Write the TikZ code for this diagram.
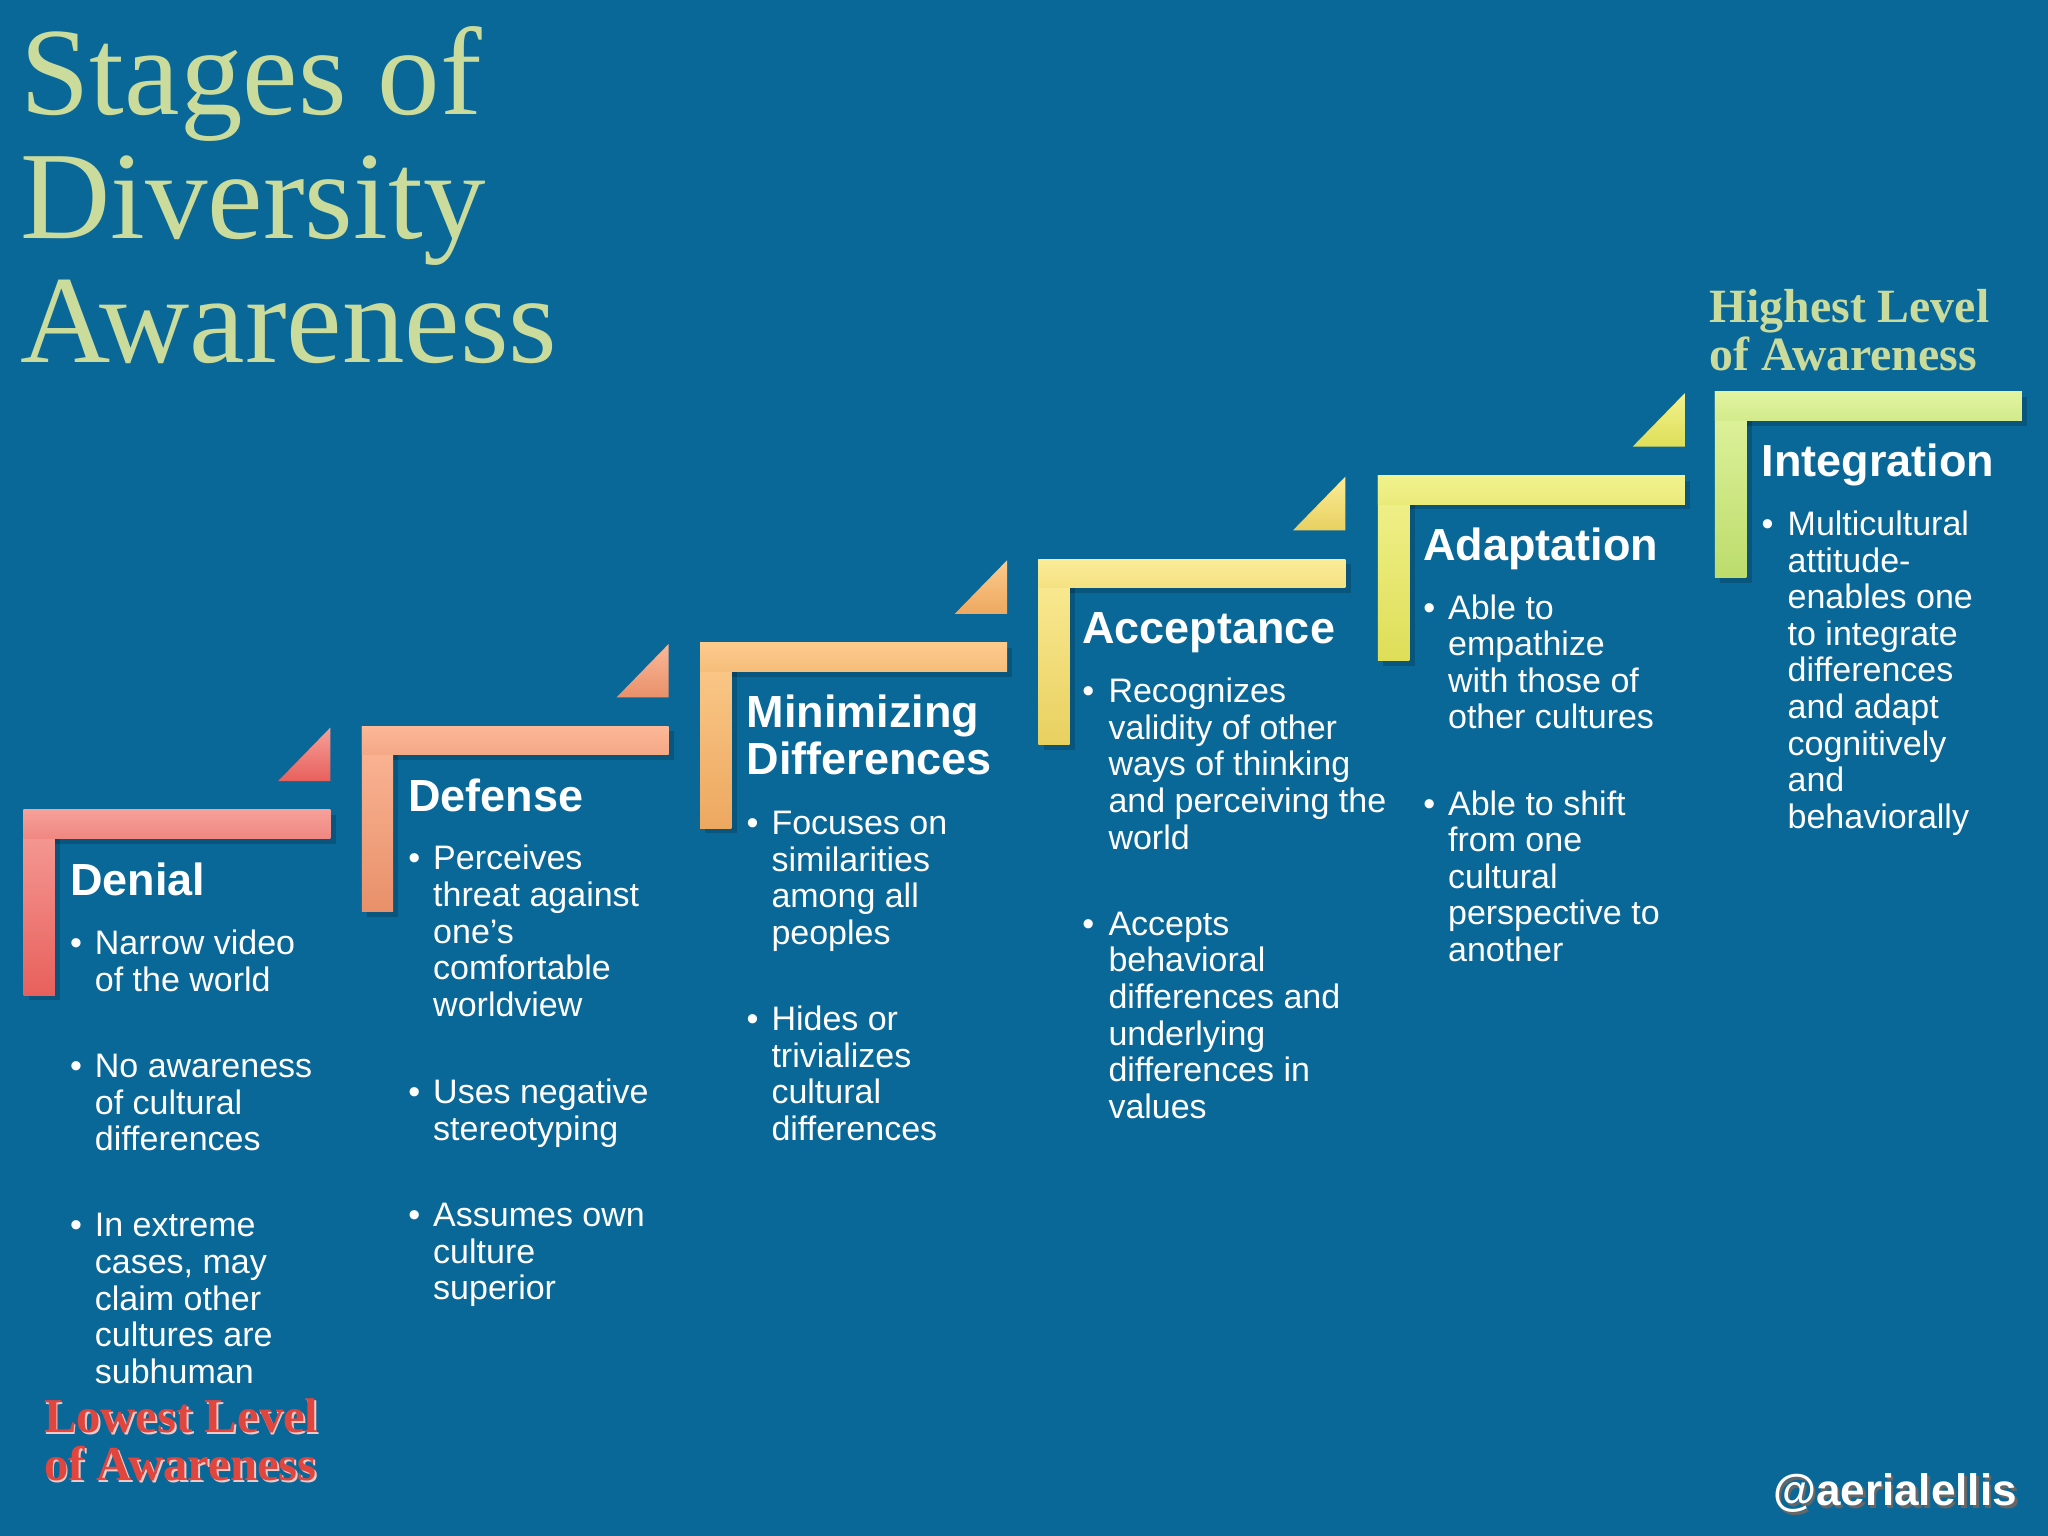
\documentclass[tikz,border=0pt]{standalone}
\usepackage{fontspec}
\setmainfont{Liberation Serif}
\setsansfont{Liberation Sans}
\newcommand{\ml}[1]{\begin{tabular}[t]{@{}l@{}}#1\end{tabular}}
\begin{document}
\begin{tikzpicture}[x=0.01cm,y=-0.01cm,
  body/.style={anchor=base west,inner sep=0pt,text=white,font=\sffamily\fontsize{7.4}{7.97}\selectfont},
  dot/.style={anchor=base west,inner sep=0pt,text=white,font=\sffamily\fontsize{7.4}{7.97}\selectfont},
  head/.style={anchor=base west,inner sep=0pt,text=white,font=\sffamily\bfseries\fontsize{9.8}{10.2}\selectfont},
  ttl/.style={anchor=base west,inner sep=0pt,text=titlegreen}]
\definecolor{bg}{HTML}{0A6899}
\definecolor{titlegreen}{HTML}{CADB9C}
\definecolor{lowred}{HTML}{E0463E}
\fill[bg] (0,0) rectangle (1568,1176);
\useasboundingbox (0,0) rectangle (1568,1176);
\newcommand{\stepL}[4]{%
  \fill[black,opacity=0.18] (#1+4,#2+4) rectangle (#1+239,#2+26);
  \fill[black,opacity=0.18] (#1+4,#2+4) rectangle (#1+28,#2+146);
  \shade[top color=#3,bottom color=#4] (#1,#2) rectangle (#1+24,#2+142);
  \shade[top color=#3,bottom color=#3!60!#4] (#1,#2) rectangle (#1+235,#2+22);}
\newcommand{\stepT}[4]{%
  \shade[top color=#3,bottom color=#4] (#1+235,#2-63) -- (#1+235,#2-22) -- (#1+195,#2-22) -- cycle;}
\definecolor{la}{HTML}{F6A09A}\definecolor{da}{HTML}{E8605C}
\definecolor{lb}{HTML}{FCB898}\definecolor{db}{HTML}{E8906A}
\definecolor{lc}{HTML}{FCCB8C}\definecolor{dc}{HTML}{EDA860}
\definecolor{ld}{HTML}{FCEC98}\definecolor{dd}{HTML}{E8D060}
\definecolor{le}{HTML}{F2F290}\definecolor{de}{HTML}{DEDE58}
\definecolor{lf}{HTML}{E2F4A0}\definecolor{df}{HTML}{BCDC6C}
\stepL{18}{620}{la}{da}\stepT{18}{620}{la}{da}
\stepL{277}{556}{lb}{db}\stepT{277}{556}{lb}{db}
\stepL{536}{492}{lc}{dc}\stepT{536}{492}{lc}{dc}
\stepL{795}{428}{ld}{dd}\stepT{795}{428}{ld}{dd}
\stepL{1055}{364}{le}{de}\stepT{1055}{364}{le}{de}
\stepL{1313}{300}{lf}{df}
% title
\node[ttl,font=\fontsize{27.2}{27}\selectfont] (title) at (15,88) {\ml{Stages of\\Diversity\\Awareness}};
\node[ttl,font=\bfseries\fontsize{10.4}{10}\selectfont] (high) at (1308,247) {\ml{Highest Level\\of Awareness}};
\node[ttl,text=white!70!lowred,font=\bfseries\fontsize{10.6}{10}\selectfont] (lowsh) at (34.5,1098.5) {\ml{Lowest Level\\of Awareness}};
\node[ttl,text=lowred,font=\bfseries\fontsize{10.6}{10}\selectfont] (low) at (33,1097) {\ml{Lowest Level\\of Awareness}};
\node[anchor=base east,inner sep=0pt,text=black!60,font=\sffamily\bfseries\fontsize{9.6}{10}\selectfont] (tagsh) at (1547,1155) {@aerialellis};
\node[anchor=base east,inner sep=0pt,text=white,font=\sffamily\bfseries\fontsize{9.6}{10}\selectfont] (tag) at (1545,1153) {@aerialellis};
% Denial
\node[head] (h1) at (53,686) {Denial};
\node[dot] (b11) at (53,731) {•};\node[body] (t11) at (72,731) {\ml{Narrow video\\of the world}};
\node[dot] (b12) at (53,825) {•};\node[body] (t12) at (72,825) {\ml{No awareness\\of cultural\\differences}};
\node[dot] (b13) at (53,947) {•};\node[body] (t13) at (72,947) {\ml{In extreme\\cases, may\\claim other\\cultures are\\subhuman}};
% Defense
\node[head] (h2) at (312,621) {Defense};
\node[dot] (b21) at (312,666) {•};\node[body] (t21) at (331,666) {\ml{Perceives\\threat against\\one’s\\comfortable\\worldview}};
\node[dot] (b22) at (312,845) {•};\node[body] (t22) at (331,845) {\ml{Uses negative\\stereotyping}};
\node[dot] (b23) at (312,939) {•};\node[body] (t23) at (331,939) {\ml{Assumes own\\culture\\superior}};
% Minimizing
\node[head] (h3) at (571,557) {\ml{Minimizing\\Differences}};
\node[dot] (b31) at (571,639) {•};\node[body] (t31) at (590,639) {\ml{Focuses on\\similarities\\among all\\peoples}};
\node[dot] (b32) at (571,789) {•};\node[body] (t32) at (590,789) {\ml{Hides or\\trivializes\\cultural\\differences}};
% Acceptance
\node[head] (h4) at (828,493) {Acceptance};
\node[dot] (b41) at (828,538) {•};\node[body] (t41) at (848,538) {\ml{Recognizes\\validity of other\\ways of thinking\\and perceiving the\\world}};
\node[dot] (b42) at (828,716) {•};\node[body] (t42) at (848,716) {\ml{Accepts\\behavioral\\differences and\\underlying\\differences in\\values}};
% Adaptation
\node[head] (h5) at (1089,429) {Adaptation};
\node[dot] (b51) at (1089,474) {•};\node[body] (t51) at (1108,474) {\ml{Able to\\empathize\\with those of\\other cultures}};
\node[dot] (b52) at (1089,624) {•};\node[body] (t52) at (1108,624) {\ml{Able to shift\\from one\\cultural\\perspective to\\another}};
% Integration
\node[head] (h6) at (1348,365) {Integration};
\node[dot] (b61) at (1348,410) {•};\node[body] (t61) at (1368,410) {\ml{Multicultural\\attitude-\\enables one\\to integrate\\differences\\and adapt\\cognitively\\and\\behaviorally}};
\end{tikzpicture}
\end{document}
